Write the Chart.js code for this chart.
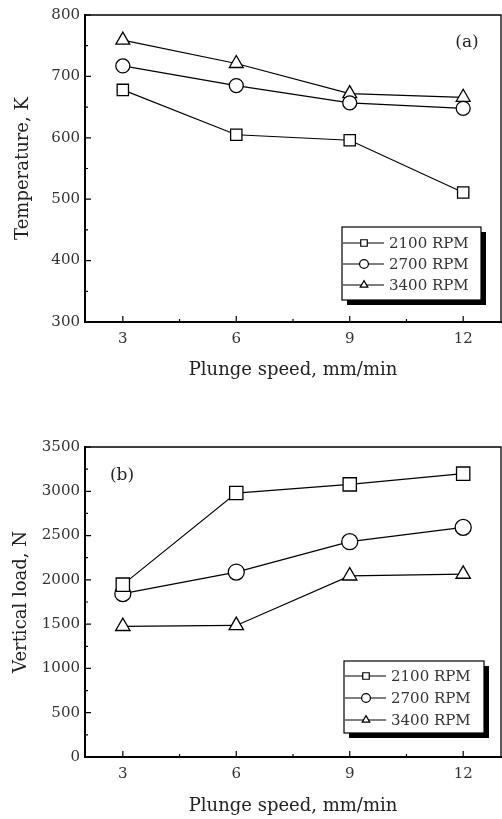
<!DOCTYPE html>
<html>
<head>
<meta charset="utf-8">
<script src="https://cdn.jsdelivr.net/npm/chart.js@4.4.0/dist/chart.umd.min.js"></script>
<style>
  body { margin: 0; background: #fff; }
  canvas { display: block; }
</style>
</head>
<body>
<canvas id="temp-chart" width="502" height="400"></canvas>
<canvas id="load-chart" width="502" height="419"></canvas>
<script>
const plungeSpeeds = [3, 6, 9, 12];
const rpmLabels = ["2100 RPM", "2700 RPM", "3400 RPM"];

// (a) temperature, K
const temp2100 = [678, 605, 596, 511];
const temp2700 = [717, 685, 657, 648];
const temp3400 = [759, 721, 672, 666];

// (b) vertical load, N
const load2100 = [1946, 2980, 3078, 3199];
const load2700 = [1844, 2088, 2431, 2592];
const load3400 = [1475, 1485, 2045, 2065];

const speedTicks = [3, 6, 9, 12];
const tempTicks = [300, 400, 500, 600, 700, 800];
const loadTicks = [0, 500, 1000, 1500, 2000, 2500, 3000, 3500];

const FONT = "'DejaVu Serif', 'Liberation Serif', serif";
const markerStyles = ["rect", "circle", "triangle"];

//Frame on top/right + inward major and minor ticks
const frameTicks = {
  id: "frameTicks",
  afterDraw(chart) {
    const { ctx, chartArea: a } = chart;
    const xs = chart.scales.x;
    const ys = chart.scales.y;
    ctx.save();
    ctx.strokeStyle = "#000";
    ctx.lineWidth = 1.3;
    ctx.beginPath();
    ctx.moveTo(a.left, a.top);
    ctx.lineTo(a.right, a.top);
    ctx.lineTo(a.right, a.bottom);
    ctx.stroke();

    ctx.lineWidth = 1.2;
    const xv = xs.ticks.map((t) => t.value);
    const yv = ys.ticks.map((t) => t.value);
    ctx.beginPath();
    xv.forEach((v, i) => {
      const px = xs.getPixelForValue(v);
      ctx.moveTo(px, a.bottom);
      ctx.lineTo(px, a.bottom - 6);
      if (i < xv.length - 1) {
        const mx = xs.getPixelForValue((v + xv[i + 1]) / 2);
        ctx.moveTo(mx, a.bottom);
        ctx.lineTo(mx, a.bottom - 3);
      }
    });
    yv.forEach((v, i) => {
      const py = ys.getPixelForValue(v);
      ctx.moveTo(a.left, py);
      ctx.lineTo(a.left + 6, py);
      if (i < yv.length - 1) {
        const my = ys.getPixelForValue((v + yv[i + 1]) / 2);
        ctx.moveTo(a.left, my);
        ctx.lineTo(a.left + 3, my);
      }
    });
    ctx.stroke();
    ctx.restore();
  },
};

//Boxed legend with drop shadow, plus panel tag "(a)"/"(b)"
const boxLegend = {
  id: "boxLegend",
  afterDraw(chart, args, opts) {
    const { ctx } = chart;
    const { left, top, width, height, rows, tag } = opts;
    ctx.save();
    ctx.fillStyle = "#000";
    ctx.fillRect(left + 5, top + 5, width, height);
    ctx.fillStyle = "#fff";
    ctx.fillRect(left, top, width, height);
    ctx.strokeStyle = "#000";
    ctx.lineWidth = 1.2;
    ctx.strokeRect(left, top, width, height);

    ctx.font = "15px " + FONT;
    ctx.textBaseline = "middle";
    chart.data.datasets.forEach((ds, i) => {
      const y = rows[i];
      ctx.strokeStyle = "#000";
      ctx.lineWidth = 1.2;
      ctx.beginPath();
      ctx.moveTo(left + 1, y);
      ctx.lineTo(left + 42, y);
      ctx.stroke();
      ctx.fillStyle = "#fff";
      ctx.lineWidth = 1.2;
      Chart.helpers.drawPoint(
        ctx,
        { pointStyle: ds.pointStyle, radius: ds.pointStyle === "rect" ? 4.6 : 4.4, borderWidth: 1.2, rotation: 0 },
        left + 22,
        y
      );
      ctx.fillStyle = "#333";
      ctx.fillText(ds.label, left + 47, y + 1);
    });

    ctx.fillStyle = "#222";
    ctx.font = "17px " + FONT;
    ctx.textAlign = "center";
    ctx.fillText(tag.text, tag.x, tag.y);
    ctx.restore();
  },
};

function makeDatasets(series, radii) {
  return series.map((vals, i) => ({
    label: rpmLabels[i],
    data: plungeSpeeds.map((s, j) => ({ x: s, y: vals[j] })),
    borderColor: "#000",
    borderWidth: 1.2,
    backgroundColor: "#fff",
    pointStyle: markerStyles[i],
    pointRadius: radii[i],
    pointBorderWidth: 1.3,
    pointBackgroundColor: "#fff",
    pointBorderColor: "#000",
    tension: 0,
  }));
}

function makeChart(id, cfg) {
  return new Chart(document.getElementById(id).getContext("2d"), {
    type: "line",
    data: { datasets: makeDatasets(cfg.series, cfg.radii) },
    options: {
      responsive: false,
      animation: false,
      layout: { autoPadding: false, padding: { left: 0, top: cfg.top, right: 1, bottom: 0 } },
      plugins: {
        legend: { display: false },
        tooltip: { enabled: false },
        boxLegend: cfg.legend,
      },
      scales: {
        x: {
          type: "linear",
          min: 2,
          max: 13,
          afterBuildTicks: (s) => {
            s.ticks = speedTicks.map((v) => ({ value: v }));
          },
          afterFit: (s) => {
            s.height = cfg.xHeight;
          },
          grid: { drawOnChartArea: false, drawTicks: false },
          border: { display: true, color: "#000", width: 2 },
          ticks: { padding: 8, color: "#333", font: { family: FONT, size: 15 }, callback: (v) => String(v) },
          title: {
            display: true,
            text: "Plunge speed, mm/min",
            color: "#222",
            font: { family: FONT, size: 18 },
            padding: { top: 0, bottom: cfg.xTitlePad },
          },
        },
        y: {
          min: cfg.yTicks[0],
          max: cfg.yTicks[cfg.yTicks.length - 1],
          afterBuildTicks: (s) => {
            s.ticks = cfg.yTicks.map((v) => ({ value: v }));
          },
          afterFit: (s) => {
            s.width = 85;
          },
          grid: { drawOnChartArea: false, drawTicks: false },
          border: { display: true, color: "#000", width: 2 },
          ticks: { padding: 5, color: "#333", font: { family: FONT, size: 15 }, callback: (v) => String(v) },
          title: {
            display: true,
            text: cfg.yTitle,
            color: "#222",
            font: { family: FONT, size: 18 },
            padding: { top: cfg.yTitlePad, bottom: 0 },
          },
        },
      },
    },
    plugins: [frameTicks, boxLegend],
  });
}

makeChart("temp-chart", {
  series: [temp2100, temp2700, temp3400],
  radii: [8, 7, 8],
  yTicks: tempTicks,
  yTitle: "Temperature, K",
  top: 15,
  xHeight: 78,
  xTitlePad: 19,
  yTitlePad: 13,
  legend: { left: 342, top: 227, width: 139, height: 73, rows: [243, 264, 285], tag: { text: "(a)", x: 467, y: 43 } },
});

makeChart("load-chart", {
  series: [load2100, load2700, load3400],
  radii: [9.4, 8, 8.3],
  yTicks: loadTicks,
  yTitle: "Vertical load, N",
  top: 47,
  xHeight: 62,
  xTitlePad: 2,
  yTitlePad: 11,
  legend: { left: 344, top: 261, width: 140, height: 72, rows: [276, 298, 320], tag: { text: "(b)", x: 122, y: 76 } },
});
</script>
</body>
</html>
